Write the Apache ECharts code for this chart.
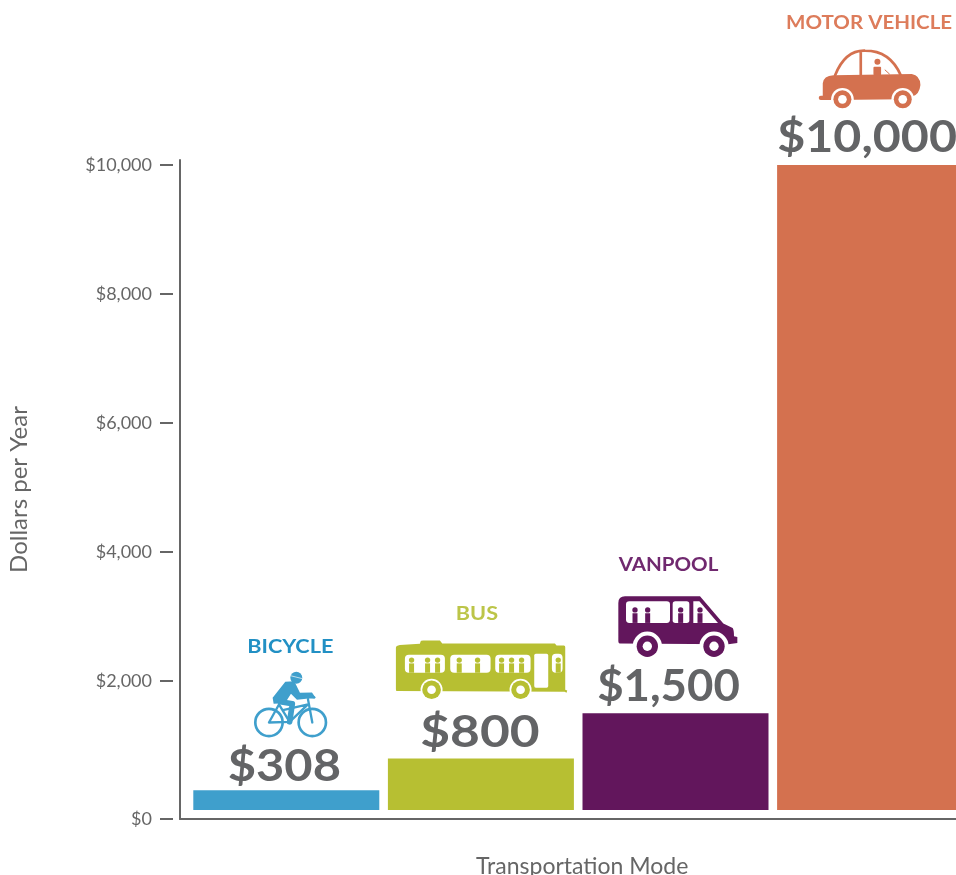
<!DOCTYPE html>
<html>
<head>
<meta charset="utf-8">
<style>html,body{margin:0;padding:0;background:#fff}#c{width:956px;height:875px}</style>
<script src="https://cdn.jsdelivr.net/npm/echarts@6/dist/echarts.min.js"></script>
</head>
<body>
<div id="c"></div>
<script>
// ---- data ----
const categories = ['BICYCLE', 'BUS', 'VANPOOL', 'MOTOR VEHICLE'];
const costPerYear = [308, 800, 1500, 10000];
const tickDollars = [2000, 4000, 6000, 8000, 10000];
const xTitle = 'Transportation Mode';
const yTitle = 'Dollars per Year';

// ---- styling ----
const barColors  = ['#3F9FCC', '#B7BF32', '#62165C', '#D4714F'];
const nameColors = ['#2290C4', '#BCC548', '#70296F', '#DD7C5B'];
const GREY = '#636466', AXIS = '#666666', FONT = 'Lato';
// The $0 tick sits on the x axis line, a little below the true zero of the bars.
const AXIS_MIN = -139.5, AXIS_MAX = 10077.5;

// offsets from [bar centre, bar top], pixels
const valueOffset = [[-2,-23],[-1,-26],[-7,-26],[-3,-27]];
const valueScale  = [1.11,1.17,1.035,1.10];
const nameOffset  = [[4,-143],[-4,-145],[-7,-148],[-1,-142]];
const nameScale   = [1.14,1.14,1.08,1.08];
const iconOffset  = [[-46,-125],[-91,-128],[-65.5,-123],[-100,-165]];

function P(d, fill, stroke, lw) {
  const r = echarts.graphic.makePath(d).getBoundingRect();
  return {type:'path', shape:{pathData:d, x:r.x, y:r.y, width:r.width, height:r.height},
    style: stroke ? {fill:'none', stroke, lineWidth:lw, lineCap:'round', lineJoin:'round'} : {fill}};
}
const C = (cx,cy,r,fill) => ({type:'circle', shape:{cx,cy,r}, style:{fill}});
const R = (x,y,w,h,fill,rr) => ({type:'rect', shape:{x,y,width:w,height:h,r:rr||0}, style:{fill}});
const ring = (cx,cy,r,col,lw) => ({type:'circle', shape:{cx,cy,r}, style:{fill:'none',stroke:col,lineWidth:lw}});
const person = (x,base,col,hy) => [C(x,hy,8,col), R(x-7.5,hy+10,15,base-hy-10,col)];
const wheel = (cx,cy,a,b,c,col) => [C(cx,cy,a,'#fff'), C(cx,cy,b,col), C(cx,cy,c,'#fff')];

const icons = [
  // bicycle
  col => [
    ring(86,172,41,col,8), ring(216,172,41,col,8),
    P('M86 172 L116 118 L148 170 Z M128 135 L203 118 L148 170 M203 102 L216 172 M178 92 L222 97', null, col, 7),
    P('M97 98 L135 50 L162 48 L179 83 L215 82 L226 98 L170 104 L152 86 L134 114 L100 116 Z', col),
    P('M120 110 L156 116 L148 170', null, col, 17),
    C(168,38,18,col), P('M152 32 L184 40', null, '#fff', 2)
  ],
  // bus
  col => {
    const out = [
      P('M18 52 Q18 46 30 44 L90 40 L92 33 Q92 30 100 30 L150 30 L157 39 L495 39 L500 45 L522 45 Q526 45 526 50 L526 178 L532 180 L530 187 L524 184 L20 182 Q18 182 18 176 Z', col),
      R(45,73,120,54,'#fff',12), R(181,73,121,54,'#fff',12), R(316,73,106,54,'#fff',12),
      R(433,70,42,102,'#fff',5), R(486,70,32,57,'#fff',12)
    ];
    [65,113,143,208,263,335,365,395,505].forEach(x => out.push(...person(x,127,col,89)));
    return out.concat(wheel(125,178,33,28,13,col), wheel(392,178,33,28,13,col));
  },
  // van
  col => {
    const out = [
      P('M25 38 Q25 18 45 18 L270 18 L340 100 L368 113 Q372 118 372 138 L382 140 L382 158 L355 162 L32 160 Q25 160 25 152 Z', col),
      R(48,33,132,65,'#fff',10), R(188,33,50,65,'#fff',8),
      P('M250 33 L268 33 L324 98 L250 98 Z','#fff'),
    ];
    [75,113,212,270].forEach(x => out.push(...person(x,98,col,59)));
    return out.concat(wheel(112,168,44,32,14,col), wheel(312,168,44,32,14,col));
  },
  // car
  col => [
    P('M195 226 Q225 150 285 152 Q360 152 392 226 M272 155 L272 226', null, col, 8),
    P('M158 250 Q160 228 190 226 L425 222 Q450 226 451 255 Q448 285 425 290 L400 298 L190 300 L158 298 Z', col),
    R(146,287,40,13,col,6),
    C(322,185,9,col), R(310,200,23,26,col,3),
    P('M345 210 L358 222', null, col, 3),
  ].concat(wheel(217,298,34,27,13,col), wheel(398,298,34,27,13,col))
];

function renderDecor(params, api) {
  const i = api.value(0);
  const v = api.value(1);
  const pt = api.coord([i, v]);
  const t = (txt, o, font, fill, sx) => ({
    type:'text', x:pt[0]+o[0], y:pt[1]+o[1], scaleX:sx,
    style:{text:txt, font, fill, textAlign:'center', textVerticalAlign:'middle'}
  });
  return {type:'group', children:[
    t('$' + v.toLocaleString('en-US'), valueOffset[i], '700 44px ' + FONT, GREY, valueScale[i]),
    t(categories[i], nameOffset[i], '700 19px ' + FONT, nameColors[i], nameScale[i]),
    {type:'group', x:pt[0]+iconOffset[i][0], y:pt[1]+iconOffset[i][1], scaleX:1/3, scaleY:1/3,
      children:icons[i](barColors[i])}
  ]};
}

const chart = echarts.init(document.getElementById('c'), null, {renderer:'canvas'});
chart.setOption({
  animation:false,
  backgroundColor:'#fff',
  grid:[
    {left:189, top:160, width:778.4, height:659, outerBoundsMode:'none'},
    {left:180, top:160, width:776, height:659, outerBoundsMode:'none'}
  ],
  xAxis:[
    {type:'category', gridIndex:0, data:categories,
      axisLine:{show:false}, axisTick:{show:false}, axisLabel:{show:false},
      name:xTitle, nameLocation:'middle', nameGap:36,
      nameTextStyle:{fontFamily:FONT, fontSize:23, color:AXIS, padding:[0,0,0,8]}},
    {type:'value', gridIndex:1, min:0, max:1,
      axisLine:{show:true, onZero:false, lineStyle:{color:AXIS,width:2}},
      axisTick:{show:false}, axisLabel:{show:false}, splitLine:{show:false}}
  ],
  yAxis:[
    {type:'value', gridIndex:0, min:AXIS_MIN, max:AXIS_MAX, position:'left', offset:16,
      axisLine:{show:false}, splitLine:{show:false},
      axisTick:{show:true, length:13, lineStyle:{color:AXIS,width:2}, customValues:[AXIS_MIN].concat(tickDollars)},
      axisLabel:{margin:21, fontFamily:FONT, fontSize:18, color:AXIS, customValues:[AXIS_MIN].concat(tickDollars),
        formatter:v => '$' + Math.max(v,0).toLocaleString('en-US')},
      name:yTitle, nameLocation:'middle', nameGap:138,
      nameTextStyle:{fontFamily:FONT, fontSize:24, color:AXIS, padding:[0,0,4,0]}},
    {type:'value', gridIndex:1, min:0, max:1,
      axisLine:{show:true, onZero:false, lineStyle:{color:AXIS,width:2}},
      axisTick:{show:false}, axisLabel:{show:false}, splitLine:{show:false}}
  ],
  series:[
    {type:'bar', xAxisIndex:0, yAxisIndex:0, barWidth:186, clip:false, silent:true,
      data:costPerYear.map((v,i)=>({value:v, itemStyle:{color:barColors[i]}}))},
    {type:'custom', xAxisIndex:0, yAxisIndex:0, clip:false, silent:true,
      renderItem:renderDecor, encode:{x:0,y:1},
      data:costPerYear.map((v,i)=>[i,v])}
  ]
});
</script>
</body>
</html>
